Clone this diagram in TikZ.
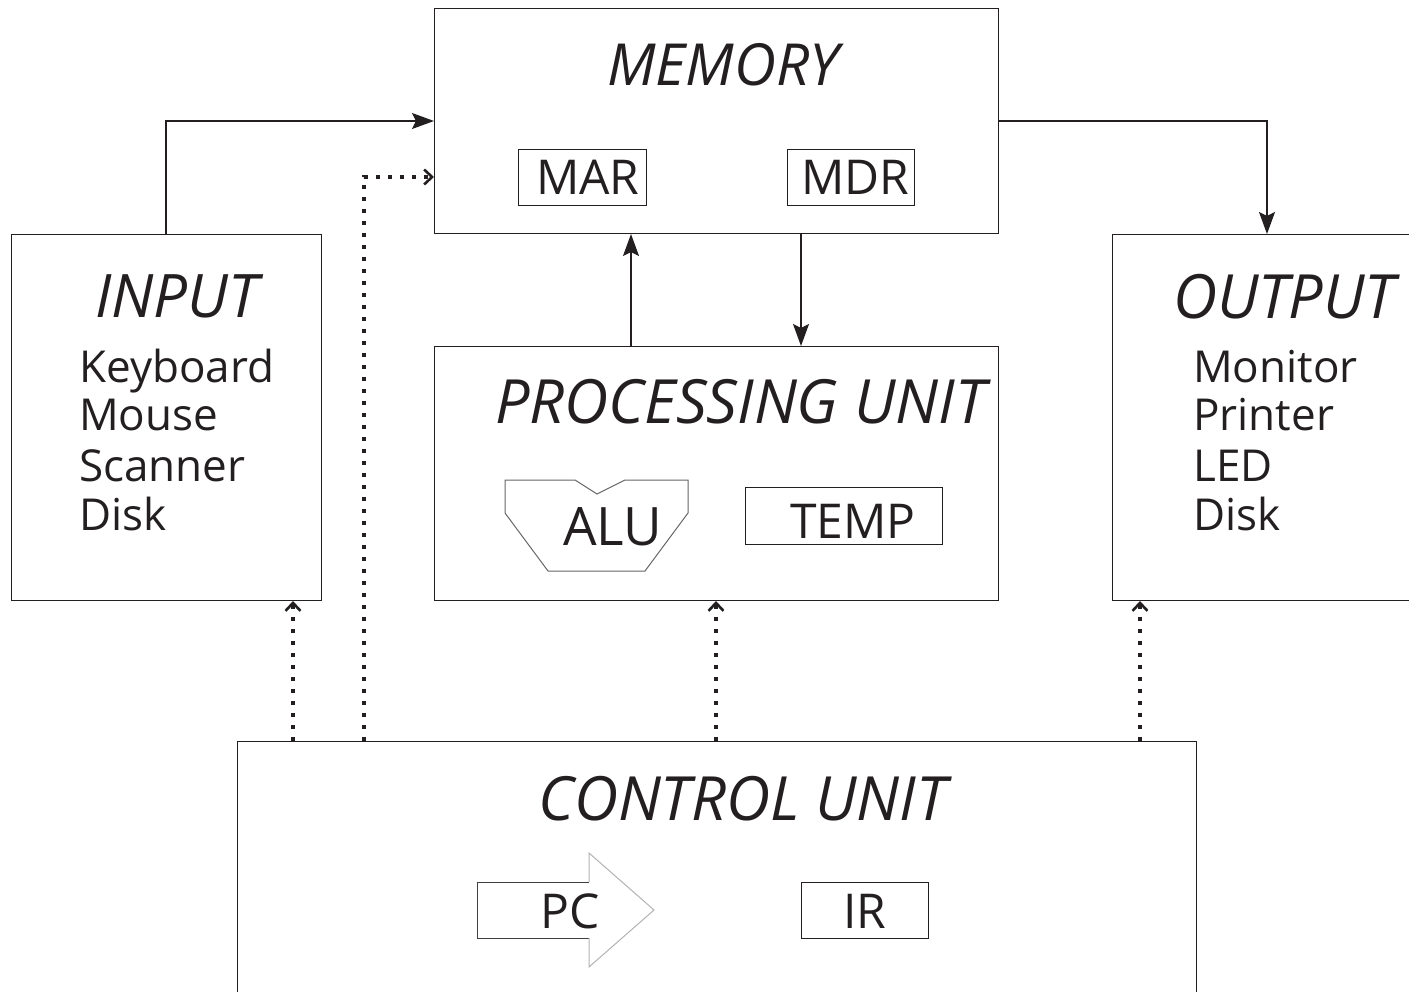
\documentclass[tikz,border=0pt]{standalone}
\usepackage{fontspec}
\setmainfont{Open Sans}
\usetikzlibrary{arrows.meta}
\definecolor{ink}{HTML}{231F20}
\tikzset{
  box/.style={draw=ink, line width=1pt, rectangle, inner sep=0pt, anchor=north west},
  reg/.style={draw=ink, line width=0.9pt, rectangle, inner sep=0pt, anchor=north west},
  title/.style={anchor=base west, inner sep=0pt, font=\fontsize{60}{62}\selectfont\itshape, text=ink},
  lbl/.style={anchor=base west, inner sep=0pt, font=\fontsize{48}{50}\selectfont, text=ink},
  item/.style={anchor=base west, inner sep=0pt, font=\fontsize{44}{46}\selectfont, text=ink, align=left},
  flow/.style={draw=ink, line width=1.1pt, -{Stealth[length=22pt,width=16pt,inset=4pt]}},
  ctrl/.style={draw=ink, line width=4pt, dash pattern=on 4pt off 8pt, -{Straight Barb[length=8pt,width=15pt,line width=2.6pt]}}
}
\begin{document}
\begin{tikzpicture}[x=1pt,y=-1pt]
\useasboundingbox (0,0) rectangle (1409,992);
\clip (0,0) rectangle (1409,992);
% boxes
\node[box, minimum width=564pt, minimum height=225pt] (mem) at (434,8) {};
\node[box, minimum width=310pt, minimum height=366pt] (in) at (11,234) {};
\node[box, minimum width=320pt, minimum height=366pt] (out) at (1112,234) {};
\node[box, minimum width=564pt, minimum height=254pt] (pu) at (434,346) {};
\node[box, minimum width=959pt, minimum height=270pt] (cu) at (237,741) {};
% registers
\node[reg, minimum width=128pt, minimum height=56pt] (mar) at (518,149) {};
\node[reg, minimum width=127pt, minimum height=56pt] (mdr) at (787,149) {};
\node[reg, minimum width=197pt, minimum height=57pt] (temp) at (745,487) {};
\node[reg, minimum width=127pt, minimum height=56pt] (ir) at (801,882) {};
% ALU shape
\draw[draw=gray!80!black, line width=1pt] (505,480) -- (575,480) -- (597,494) -- (625,480) -- (688,480) -- (688,513) -- (645,571) -- (548,571) -- (505,513) -- cycle;
% PC arrow shape
\draw[draw=gray!50!black, line width=1pt] (589,882) -- (477,882) -- (477,938) -- (589,938);
\draw[draw=gray!60, line width=1pt] (589,882) -- (589,853) -- (654,910) -- (589,967) -- (589,938);
% texts
\node[title, font=\fontsize{58}{60}\selectfont\itshape] (memt) at (607,86) {MEMORY};
\node[title] (int) at (95,318) {INPUT};
\node[title, font=\fontsize{61}{63}\selectfont\itshape] (outt) at (1173,319) {OUTPUT};
\node[title, font=\fontsize{61}{63}\selectfont\itshape] (put) at (495,424) {PROCESSING UNIT};
\node[title, font=\fontsize{61}{63}\selectfont\itshape] (cut) at (538,820) {CONTROL UNIT};
\node[lbl] (mart) at (536,195) {MAR};
\node[lbl] (mdrt) at (801,195) {MDR};
\node[lbl, font=\fontsize{53}{55}\selectfont] (alut) at (563,545) {ALU};
\node[lbl] (tempt) at (790,538) {TEMP};
\node[lbl] (pct) at (540,928) {PC};
\node[lbl] (irt) at (843,928) {IR};
\node[item] (k) at (79,382) {Keyboard};
\node[item] (m) at (79,431) {Mouse};
\node[item] (s) at (79,481) {Scanner};
\node[item] (d) at (79,530) {Disk};
\node[item] (mo) at (1193,382) {Monitor};
\node[item] (pr) at (1193,431) {Printer};
\node[item] (le) at (1193,481) {LED};
\node[item] (di) at (1193,530) {Disk};
% data flow
\draw[flow] (166,0 |- in.north) |- (mem.west |- 0,121);
\draw[flow] (mem.east |- 0,121) -| (1267,0 |- out.north);
\draw[flow] (631,0 |- pu.north) -- (631,0 |- mem.south);
\draw[flow] (801,0 |- mem.south) -- (801,0 |- pu.north);
% control
\draw[ctrl] (364,0 |- cu.north) |- (mem.west |- 0,177);
\draw[ctrl] (293,0 |- cu.north) -- (293,0 |- in.south);
\draw[ctrl] (716,0 |- cu.north) -- (716,0 |- pu.south);
\draw[ctrl] (1140,0 |- cu.north) -- (1140,0 |- out.south);
\end{tikzpicture}
\end{document}
